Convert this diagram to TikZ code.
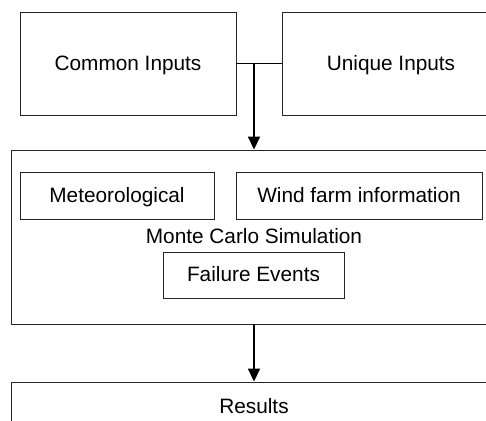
\documentclass[tikz,border=0pt]{standalone}
\usepackage{fontspec}
\setmainfont{Liberation Sans}
\usetikzlibrary{arrows.meta}
\begin{document}
\begin{tikzpicture}[x=1pt,y=-1pt,
  box/.style={draw=black!85, line width=0.9pt, inner sep=0pt, align=center,
    text height=15pt, text depth=2pt,
    font=\fontsize{20.8}{24}\selectfont},
  flow/.style={line width=1.7pt, -{Triangle[length=13pt,width=12pt]}}]
\useasboundingbox (0,0) rectangle (486,420);
\clip (0,0) rectangle (486,420);
% input blocks
\node[box, minimum width=216pt, minimum height=103pt] (ci) at (128,63.5) {Common Inputs};
\node[box, minimum width=218pt, minimum height=103pt] (ui) at (391,63.5) {Unique Inputs};
% simulation block with its inner parts
\node[box, minimum width=486pt, minimum height=174pt] (mc) at (254,237) {Monte Carlo Simulation};
\node[box, minimum width=194pt, minimum height=47pt] (met) at (117,195.5) {Meteorological};
\node[box, minimum width=246pt, minimum height=47pt] (wf) at (359,195.5) {Wind farm information};
\node[box, minimum width=181pt, minimum height=46pt] (fe) at (253.5,275) {Failure Events};
% output block
\node[box, minimum width=486pt, minimum height=50pt] (res) at (254,407) {Results};
% connectors
\draw[line width=1.2pt] (ci.east) -- (ui.west);
\coordinate (j) at (254,63.5);
\draw[flow] (j) -- (mc.north);
\draw[flow] (mc.south) -- (res.north);
\end{tikzpicture}
\end{document}
